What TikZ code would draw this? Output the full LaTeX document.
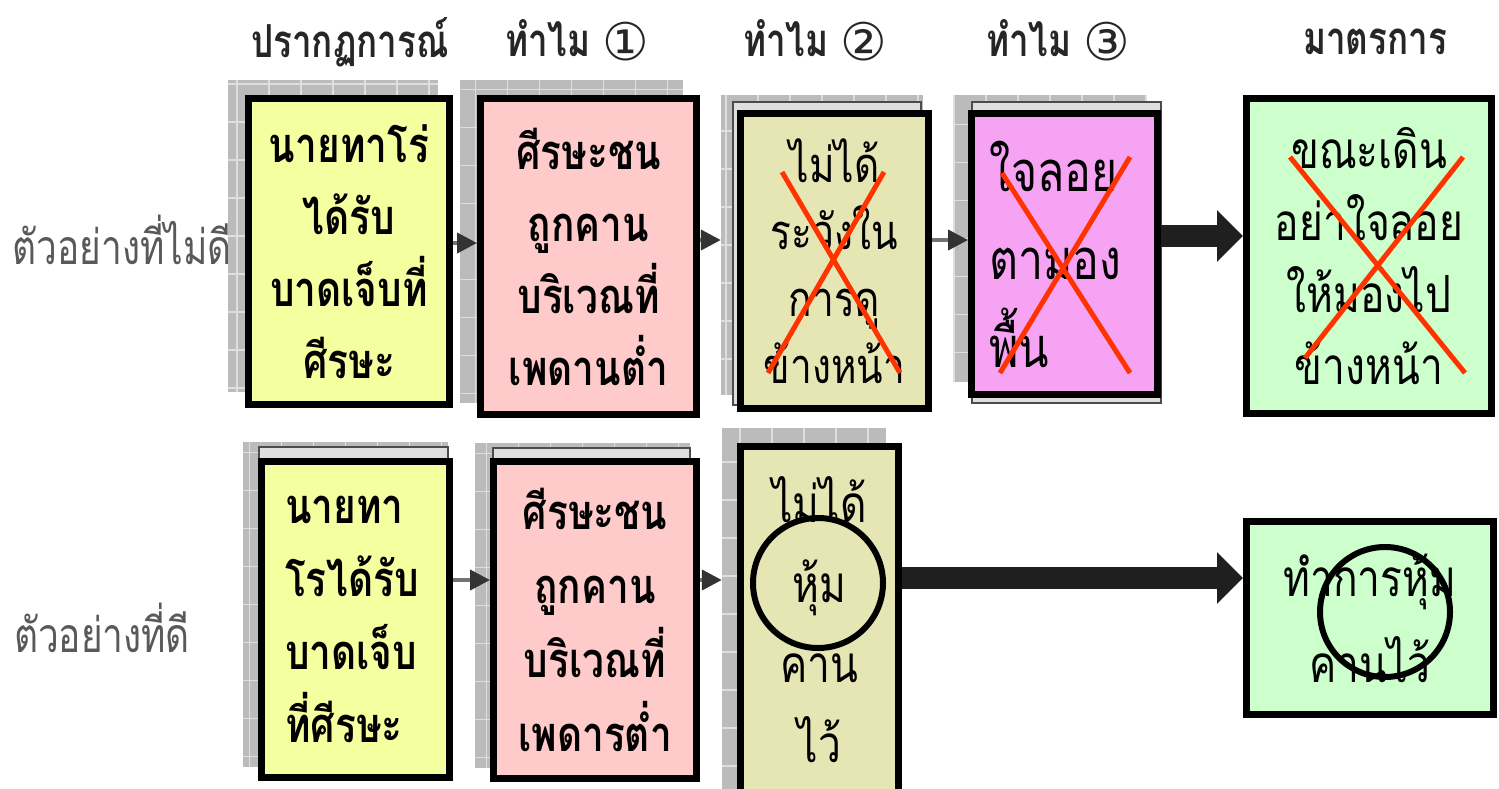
\documentclass[tikz,border=0pt]{standalone}
\usepackage{fontspec}
\usepackage{graphicx}
\newfontfamily\thaifont[Script=Thai]{Loma}
\newfontfamily\symfont{DejaVu Sans}
\usetikzlibrary{arrows.meta}
\newcommand\tl[1]{\scalebox{0.97}[1.22]{#1}}
\newcommand\hl[1]{\scalebox{1}[1.3]{#1}}
\newcommand\cnum[1]{\raisebox{-4pt}{\symfont\fontsize{52}{52}\selectfont\mdseries #1}}
\definecolor{cyel}{HTML}{F4FFA0}
\definecolor{cpink}{HTML}{FFCACA}
\definecolor{ckhaki}{HTML}{E6E6B4}
\definecolor{cmag}{HTML}{F7A3F4}
\definecolor{cgreen}{HTML}{CCFFCC}
\definecolor{cred}{HTML}{FF3300}
\definecolor{cshadow}{HTML}{BBBBBB}
\definecolor{cgrid}{HTML}{DEDEDE}
\begin{document}
\begin{tikzpicture}[x=1pt,y=-1pt,
  shadowbox/.style={fill=cshadow, draw=none, inner sep=0pt,
    path picture={\draw[cgrid, line width=1.2pt] (path picture bounding box.south west) grid[xstep=32pt, ystep=38pt] (path picture bounding box.north east);}},
  framebox/.style={fill=gray!25, draw=gray!60!black, line width=1.5pt, inner sep=0pt},
  box/.style={draw=black, line width=7pt, inner sep=0pt, align=center, text=black},
  bold40/.style={font=\thaifont\bfseries\fontsize{40}{72}\selectfont},
  head/.style={font=\thaifont\bfseries\fontsize{35}{40}\selectfont, text=black!85, inner sep=0pt},
  side/.style={font=\thaifont\fontsize{37}{40}\selectfont, text=black!65, inner sep=0pt},
  thinarrow/.style={draw=black!55, line width=4pt, -{Triangle[length=20pt,width=20pt,color=black!80]}},
  bigarrow/.style={draw=black!88, line width=22pt, -{Triangle[length=26pt,width=50pt]}},
  cross/.style={draw=cred, line width=5pt},
  ring/.style={draw=black, line width=6pt}
]
\useasboundingbox (0,0) rectangle (1499,788);
\fill[white] (0,0) rectangle (1499,788);

% headers
\node[head] (h1) at (350,42) {\hl{ปรากฏการณ์}};
\node[head] (h2) at (577,40) {\hl{ทำไม} \cnum{①}};
\node[head] (h3) at (815,40) {\hl{ทำไม} \cnum{②}};
\node[head] (h4) at (1058,40) {\hl{ทำไม} \cnum{③}};
\node[head] (h5) at (1375,42) {\hl{มาตรการ}};

% side labels
\node[side] (l1) at (122,240) {\hl{ตัวอย่างที่ไม่ดี}};
\node[side] (l2) at (102,628) {\hl{ตัวอย่างที่ดี}};

% shadows
\node[shadowbox, minimum width=210, minimum height=312] (SA1) at (333,236) {};
\node[shadowbox, minimum width=223, minimum height=323] (SA2) at (571.5,241.5) {};
\node[shadowbox, minimum width=202, minimum height=300] (SA3) at (822,245) {};
\node[shadowbox, minimum width=194, minimum height=287] (SA4) at (1050,238.5) {};
\node[shadowbox, minimum width=205, minimum height=325] (SB1) at (345.5,604.5) {};
\node[shadowbox, minimum width=215, minimum height=325] (SB2) at (582.5,605.5) {};
\node[shadowbox, minimum width=164, minimum height=372] (SB3) at (804,614) {};

% second frames
\node[framebox, minimum width=188, minimum height=303] (FA3) at (827,253.5) {};
\node[framebox, minimum width=189, minimum height=301] (FA4) at (1066.5,252.5) {};
\node[framebox, minimum width=189, minimum height=328] (FB1) at (353.5,611) {};
\node[framebox, minimum width=197, minimum height=329] (FB2) at (591.5,612.5) {};

% boxes row 1
\node[box, bold40, fill=cyel, minimum width=201, minimum height=306] (A1) at (349,251.5)
  {\tl{นายทาโร่}\\\tl{ได้รับ}\\\tl{บาดเจ็บที่}\\\tl{ศีรษะ}};
\node[box, bold40, fill=cpink, minimum width=216, minimum height=316] (A2) at (588.5,256.5)
  {\tl{ศีรษะชน}\\\tl{ถูกคาน}\\\tl{บริเวณที่}\\\tl{เพดานต่ำ}};
\node[box, fill=ckhaki, minimum width=188, minimum height=295,
  font=\thaifont\fontsize{40}{67}\selectfont] (A3) at (834.5,261)
  {\tl{ไม่ได้}\\\tl{ระวังใน}\\\tl{การดู}\\\tl{ข้างหน้า}};
\node[box, fill=cmag, minimum width=186, minimum height=281, align=left,
  text width=150, inner xsep=18pt,
  font=\thaifont\fontsize{46}{88}\selectfont] (A4) at (1064.5,254)
  {\tl{ใจลอย}\\\tl{ตามอง}\\\tl{พื้น}};
\node[box, fill=cgreen, minimum width=245, minimum height=315,
  font=\thaifont\fontsize{42}{72}\selectfont] (A5) at (1369,256)
  {\tl{ขณะเดิน}\\\tl{อย่าใจลอย}\\\tl{ให้มองไป}\\\tl{ข้างหน้า}};

% boxes row 2
\node[box, fill=cyel, minimum width=188, minimum height=316, align=left,
  text width=141, inner xsep=23.5pt, font=\thaifont\bfseries\fontsize{40}{73}\selectfont] (B1) at (355.5,619.5)
  {\tl{นายทา}\\\tl{โรได้รับ}\\\tl{บาดเจ็บ}\\\tl{ที่ศีรษะ}};
\node[box, fill=cpink, minimum width=203, minimum height=317,
  font=\thaifont\bfseries\fontsize{40}{74}\selectfont] (B2) at (595,620)
  {\tl{ศีรษะชน}\\\tl{ถูกคาน}\\\tl{บริเวณที่}\\\tl{เพดารต่ำ}};
\node[box, fill=ckhaki, minimum width=158, minimum height=347,
  font=\thaifont\fontsize{42}{80}\selectfont] (B3) at (819.5,620)
  {\tl{ไม่ได้}\\\tl{หุ้ม}\\\tl{คาน}\\\tl{ไว้}};
\node[box, fill=cgreen, minimum width=247, minimum height=193,
  font=\thaifont\fontsize{42}{86}\selectfont] (B5) at (1370,618)
  {\tl{ทำการหุ้ม}\\\tl{คานไว้}};

% connectors
\draw[thinarrow] (A1.east |- 0,243) -- (A2.west |- 0,243);
\draw[thinarrow] (A2.east |- 0,240) -- (SA3.west |- 0,240);
\draw[thinarrow] (A3.east |- 0,240) -- (A4.west |- 0,240);
\draw[bigarrow] (A4.east |- 0,236) -- (A5.west |- 0,236);
\draw[thinarrow] (B1.east |- 0,580) -- (B2.west |- 0,580);
\draw[thinarrow] (B2.east |- 0,580) -- (SB3.west |- 0,580);
\draw[bigarrow] (B3.east |- 0,578) -- (B5.west |- 0,578);

% crosses
\draw[cross] (782,172) -- (900,373);
\draw[cross] (884,172) -- (768,373);
\draw[cross] (1002,173) -- (1130,373);
\draw[cross] (1130,157) -- (1000,373);
\draw[cross] (1290,157) -- (1465,373);
\draw[cross] (1463,157) -- (1305,358);

% circles
\draw[ring] (818,583) circle[radius=65pt];
\draw[ring] (1385,612) circle[radius=65pt];
\end{tikzpicture}
\end{document}
